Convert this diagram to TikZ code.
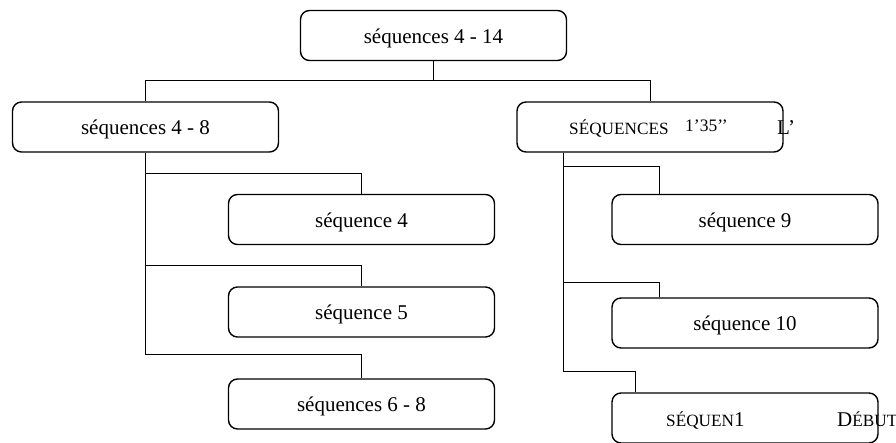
\documentclass[tikz,border=0pt]{standalone}
\usepackage{fontspec}
\setmainfont{Liberation Serif}
\usetikzlibrary{positioning}
\newcommand{\petitescap}[1]{{\fontsize{17.2}{20}\selectfont #1}}

\begin{document}
\begin{tikzpicture}[x=1pt,y=-1pt,
    seqbox/.style={draw, line width=1.4pt, rounded corners=9pt, minimum width=266pt, minimum height=50pt, inner sep=0pt, text height=19pt, text depth=4pt, font=\fontsize{21}{25}\selectfont},
    tree/.style={line width=1pt},
    garble/.style={anchor=base west, inner sep=0pt, font=\fontsize{21}{25}\selectfont}]
        \useasboundingbox (0,0) rectangle (896,442);
        \node[seqbox] (top) at (433.5,35.5) {séquences 4 - 14};
        \node[seqbox] (l48) at (145.5,127) {séquences 4 - 8};
        \node[seqbox] (rseq) at (650,127) {};
        \node[seqbox] (s4) at (361.5,219.5) {séquence 4};
        \node[seqbox] (s5) at (361.5,312) {séquence 5};
        \node[seqbox] (s68) at (361.5,404) {séquences 6 - 8};
        \node[seqbox] (s9) at (745,219.5) {séquence 9};
        \node[seqbox] (s10) at (745,323) {séquence 10};
        \node[seqbox] (sfin) at (745,418) {};
        \node[garble] (rseqa) at (569,134) {\petitescap{SÉQUENCES}};
        \node[garble, font=\fontsize{17.5}{20}\selectfont] (rseqb) at (685,131) {1’35’’};
        \node[garble] (rseqc) at (777,134) {L’};
        \node[garble] (sfina) at (666,426) {\petitescap{SÉQUEN}1};
        \node[garble] (sfinb) at (837,426) {D\petitescap{ÉBUT}};
        \draw[tree] (top.south) -- ++(0,19) coordinate (hub);
        \draw[tree] (l48.north) |- (hub) -| (rseq.north);
        \draw[tree] (s4.north) -- ++(0,-20) -| (l48.south);
        \draw[tree] (s5.north) -- ++(0,-21) -| (l48.south);
        \draw[tree] (s68.north) -- ++(0,-24) -| (l48.south);
        \coordinate (rtrunk) at ([xshift=47pt]rseq.south west);
        \draw[tree] ([xshift=48pt]s9.north west) -- ++(0,-27) -| (rtrunk);
        \draw[tree] ([xshift=48pt]s10.north west) -- ++(0,-15) -| (rtrunk);
        \draw[tree] ([xshift=24pt]sfin.north west) -- ++(0,-21) -| (rtrunk);
      \end{tikzpicture}
\end{document}
